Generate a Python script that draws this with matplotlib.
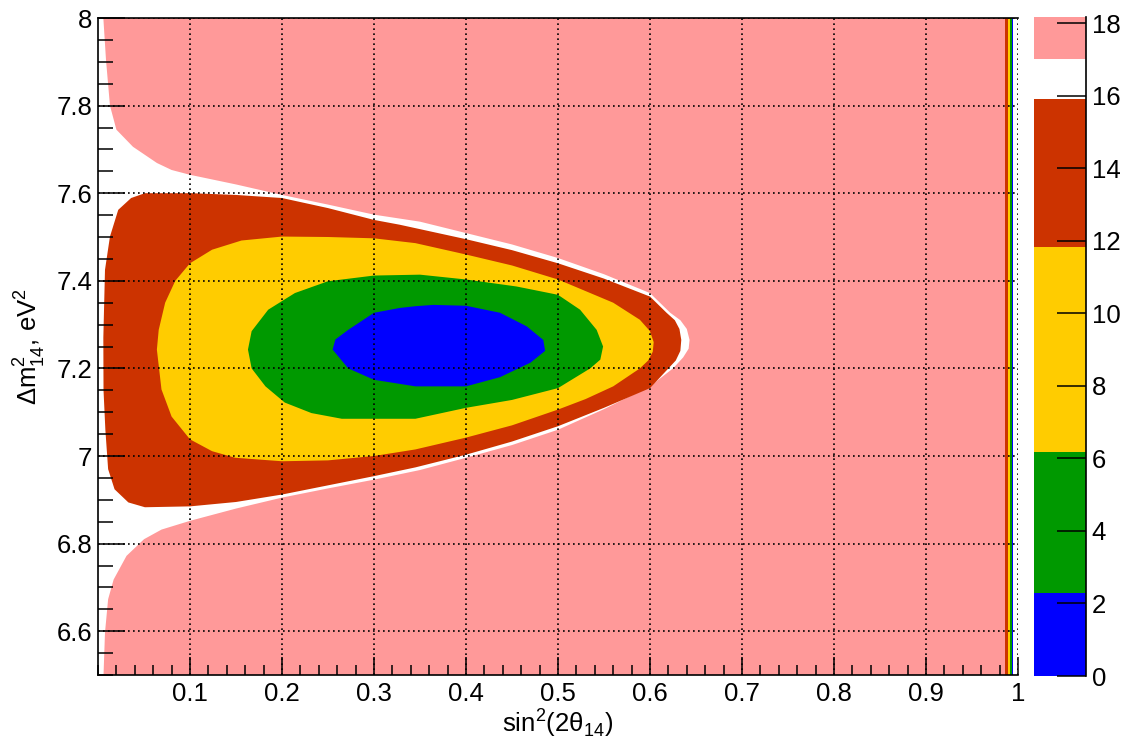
import numpy as np
import matplotlib
matplotlib.use('Agg')
import matplotlib.pyplot as plt
from matplotlib.ticker import MultipleLocator, FixedLocator

plt.rcParams['font.family'] = ['Liberation Sans', 'DejaVu Sans']
plt.rcParams['mathtext.fontset'] = 'custom'
plt.rcParams['mathtext.rm'] = 'Liberation Sans'

# contour levels (delta chi2) and colours, as in the palette on the right
levels = [0, 2.3, 6.18, 11.83, 15.9, 17.0, 18.17]
level_colors = ['#0000ff', '#009900', '#ffcc00', '#cc3300', '#ffffff', '#ff9999']

# boundary of the white band (chi2 < 17)
white_x = [0, 0.0058, 0.0087, 0.013, 0.020, 0.038, 0.064, 0.08, 0.1, 0.15, 0.2, 0.25,
           0.3, 0.35, 0.4, 0.45, 0.5, 0.55, 0.6, 0.622, 0.633, 0.640, 0.643, 0.642, 0.636,
           0.625, 0.6, 0.55, 0.5, 0.45, 0.4, 0.35, 0.3, 0.25, 0.2, 0.15, 0.1, 0.069, 0.05,
           0.031, 0.017, 0.011, 0.0076, 0.006, 0]
white_y = [8, 8, 7.904, 7.8, 7.745, 7.706, 7.669, 7.653, 7.642, 7.62, 7.596, 7.574,
           7.551, 7.535, 7.509, 7.483, 7.452, 7.415, 7.372, 7.327, 7.31, 7.29, 7.265, 7.245, 7.225,
           7.2, 7.159, 7.107, 7.06, 7.025, 6.996, 6.968, 6.946, 6.926, 6.905, 6.88, 6.852, 6.832, 6.81,
           6.772, 6.718, 6.673, 6.597, 6.5, 6.5]

# chi2 < 15.9
red_x = [0.0058, 0.0076, 0.013, 0.022, 0.036, 0.051, 0.102, 0.15, 0.2, 0.25, 0.3, 0.328,
         0.4, 0.45, 0.5, 0.55, 0.6, 0.618, 0.627, 0.632, 0.634, 0.633, 0.628, 0.62, 0.6, 0.55,
         0.5, 0.45, 0.4, 0.345, 0.3, 0.25, 0.2, 0.15, 0.1, 0.051, 0.033, 0.018, 0.011,
         0.008, 0.006]
red_y = [7.27, 7.425, 7.501, 7.562, 7.589, 7.6, 7.6, 7.596, 7.589, 7.566, 7.539, 7.528,
         7.495, 7.47, 7.44, 7.405, 7.364, 7.327, 7.31, 7.29, 7.265, 7.24, 7.218, 7.2, 7.155, 7.11,
         7.068, 7.033, 7.003, 6.974, 6.954, 6.933, 6.912, 6.895, 6.885, 6.883, 6.894, 6.924, 6.97,
         7.06, 7.15]

# chi2 < 11.83
yellow_x = [0.064, 0.066, 0.073, 0.084, 0.1, 0.124, 0.156, 0.2, 0.25, 0.3, 0.345, 0.4,
            0.45, 0.5, 0.56, 0.589, 0.600, 0.604, 0.603, 0.598, 0.589, 0.56, 0.53, 0.5, 0.45,
            0.4, 0.345, 0.3, 0.25, 0.2, 0.149, 0.124, 0.1, 0.08, 0.069]
yellow_y = [7.243, 7.288, 7.35, 7.4, 7.44, 7.471, 7.492, 7.501, 7.5, 7.497, 7.486, 7.46,
            7.435, 7.403, 7.35, 7.311, 7.285, 7.26, 7.238, 7.218, 7.2, 7.159, 7.13, 7.106, 7.07,
            7.042, 7.015, 7.0, 6.99, 6.988, 6.996, 7.011, 7.038, 7.09, 7.152]

# chi2 < 6.18
green_x = [0.163, 0.167, 0.185, 0.214, 0.25, 0.3, 0.35, 0.4, 0.455, 0.5, 0.524, 0.542,
           0.549, 0.546, 0.535, 0.5, 0.45, 0.4, 0.345, 0.3, 0.265, 0.232, 0.203, 0.182, 0.167]
green_y = [7.243, 7.285, 7.334, 7.372, 7.399, 7.412, 7.414, 7.403, 7.387, 7.368, 7.334, 7.288,
           7.25, 7.22, 7.2, 7.155, 7.128, 7.11, 7.085, 7.085, 7.085, 7.098, 7.122, 7.159, 7.2]

# chi2 < 2.3
blue_x = [0.255, 0.258, 0.272, 0.3, 0.328, 0.345, 0.3645, 0.4, 0.437, 0.466, 0.484, 0.486,
          0.47, 0.437, 0.4, 0.345, 0.3, 0.272]
blue_y = [7.243, 7.266, 7.288, 7.327, 7.338, 7.342, 7.345, 7.343, 7.327, 7.296, 7.265, 7.24,
          7.213, 7.18, 7.159, 7.159, 7.174, 7.2]

# narrow strips at sin^2 -> 1
strip_edges = [0.9858, 0.9888, 0.9913, 0.9931, 0.9949, 1.0]
strip_colors = ['#cc3300', '#ffcc00', '#009900', '#0000ff', '#ffffff']

fig = plt.figure(figsize=(11.41, 7.45), dpi=100)
ax = fig.add_axes([98 / 1141, 1 - 675 / 745, 920 / 1141, 657 / 745])

ax.axvspan(0, strip_edges[0], color=level_colors[5], lw=0, zorder=1)
for i in range(len(strip_colors)):
    ax.axvspan(strip_edges[i], strip_edges[i + 1], color=strip_colors[i], lw=0, zorder=1)
ax.fill(white_x, white_y, color=level_colors[4], lw=0, zorder=1.1)
ax.fill(red_x, red_y, color=level_colors[3], lw=0, zorder=1.2)
ax.fill(yellow_x, yellow_y, color=level_colors[2], lw=0, zorder=1.3)
ax.fill(green_x, green_y, color=level_colors[1], lw=0, zorder=1.4)
ax.fill(blue_x, blue_y, color=level_colors[0], lw=0, zorder=1.5)

ax.set_xlim(0, 1)
ax.set_ylim(6.5, 8)
ax.xaxis.set_major_locator(FixedLocator(np.round(np.arange(0.1, 1.01, 0.1), 2)))
ax.set_xticklabels(['0.1', '0.2', '0.3', '0.4', '0.5', '0.6', '0.7', '0.8', '0.9', '1'])
ax.xaxis.set_minor_locator(MultipleLocator(0.02))
ax.yaxis.set_major_locator(FixedLocator(np.round(np.arange(6.6, 8.01, 0.2), 2)))
ax.set_yticklabels(['6.6', '6.8', '7', '7.2', '7.4', '7.6', '7.8', '8'])
ax.yaxis.set_minor_locator(MultipleLocator(0.05))

ax.tick_params(axis='both', which='both', direction='in', top=False, right=False,
               labelsize=18.5, width=1.1, colors='black')
ax.tick_params(axis='y', which='major', length=19.5, pad=4)
ax.tick_params(axis='y', which='minor', length=10.8)
ax.tick_params(axis='x', which='major', length=13, pad=5)
ax.tick_params(axis='x', which='minor', length=7)

ax.grid(True, which='major', color='black', linestyle=(0, (1, 2)), linewidth=1.2)
ax.set_axisbelow(False)
ax.spines['right'].set_visible(False)
for s in ['left', 'bottom', 'top']:
    ax.spines[s].set_linewidth(1.2)

ax.set_xlabel('sin$^{\\mathregular{2}}$(2θ$_{\\mathregular{14}}$)', fontsize=18.5, labelpad=0)
ax.set_ylabel('Δm$^{\\mathregular{2}}_{\\mathregular{14}}$, eV$^{\\mathregular{2}}$', fontsize=18.5, labelpad=7)

# palette
cax = fig.add_axes([1034 / 1141, 1 - 676 / 745, 52 / 1141, 659 / 745])
cax.bar(0.5, np.diff(levels), bottom=levels[:-1], width=1, color=level_colors, lw=0)
cax.set_xlim(0, 1)
cax.set_ylim(levels[0], levels[-1])
cax.set_xticks([])
for s in ['left', 'bottom', 'top']:
    cax.spines[s].set_visible(False)
cax.spines['right'].set_linewidth(1.2)
cax.yaxis.tick_right()
cax.yaxis.set_major_locator(MultipleLocator(2))
cax.tick_params(axis='y', direction='in', length=21, width=1.1, labelsize=18.5, pad=4)

fig.savefig('out.png', dpi=100)
